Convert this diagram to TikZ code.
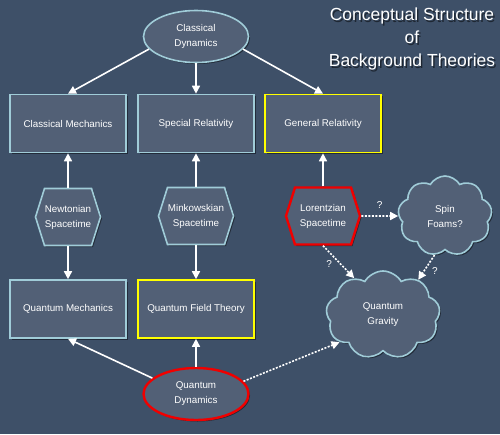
\documentclass[tikz,border=0pt]{standalone}
\usepackage{fontspec}
\setmainfont{Liberation Sans}
\usetikzlibrary{shapes.geometric,shapes.symbols,arrows.meta,shadows}
\definecolor{bg}{RGB}{62,80,104}
\definecolor{nodefill}{RGB}{82,96,118}
\definecolor{lb}{RGB}{160,204,216}
\definecolor{yel}{RGB}{255,255,0}
\definecolor{redb}{RGB}{240,0,0}
\begin{document}
\begin{tikzpicture}[x=1pt,y=-1pt,
 base/.style={fill=nodefill, draw=lb, line width=1.6pt, text=white, align=center,
   font=\fontsize{9.8}{15}\selectfont, inner sep=0pt,
   drop shadow={shadow xshift=1.5pt,shadow yshift=-1.5pt,opacity=0.45,fill=black}},
 boxnode/.style={base, rectangle, minimum width=116pt, minimum height=58pt},
 ellnode/.style={base, ellipse, minimum width=105pt, minimum height=52pt},
 hexnode/.style={base, signal, signal to=east and west, signal pointer angle=145, minimum height=57pt},
 cloudnode/.style={base, cloud, cloud puffs=9, cloud puff arc=120, cloud ignores aspect},
 conn/.style={draw=white, line width=1.6pt, -{Triangle[length=8pt,width=8pt]}},
 dconn/.style={conn, dash pattern=on 2pt off 1.5pt},
 qlabel/.style={text=white, font=\fontsize{10}{12}\selectfont},
 titletext/.style={align=center, font=\fontsize{17.5}{23}\selectfont},
]
\fill[bg] (0,0) rectangle (500,434);
\useasboundingbox (0,0) rectangle (500,434);

% title
\node[titletext, text=black, opacity=0.5] (titleshadow) at (413.5,40.5) {Conceptual Structure\\of\\Background Theories};
\node[titletext, text=white] (title) at (412,39) {Conceptual Structure\\of\\Background Theories};

% nodes
\node[ellnode] (CD) at (196,36.5) {Classical\\Dynamics};
\node[boxnode] (CM) at (68,123.5) {Classical Mechanics};
\node[boxnode] (SR) at (196,123.5) {Special Relativity};
\node[boxnode, draw=yel] (GR) at (323,123.5) {General Relativity};

\node[hexnode, minimum width=65pt] (NS) at (68,217) {Newtonian\\Spacetime};
\node[hexnode, minimum width=75pt] (MS) at (196,216) {Minkowskian\\Spacetime};
\node[hexnode, minimum width=74pt, draw=redb, line width=2.4pt] (LS) at (323,216) {Lorentzian\\Spacetime};

\node[cloudnode, minimum width=94pt, minimum height=80pt] (SF) at (445,216) {Spin\\Foams?};
\node[cloudnode, minimum width=114pt, minimum height=88pt] (QG) at (383,315) {Quantum\\Gravity};

\node[boxnode] (QM) at (68,309) {Quantum Mechanics};
\node[boxnode, draw=yel] (QFT) at (196,309) {Quantum Field Theory};
\node[ellnode, draw=redb, line width=2.4pt] (QD) at (196,394) {Quantum\\Dynamics};

% connectors
\draw[conn] (CD.195) -- (CM.north);
\draw[conn] (CD.south) -- (SR.north);
\draw[conn] (CD.-15) -- (GR.north);

\draw[conn] (NS.north) -- (CM.south);
\draw[conn] (NS.south) -- (QM.north);
\draw[conn] (MS.north) -- (SR.south);
\draw[conn] (MS.south) -- (QFT.north);
\draw[conn] (LS.north) -- (GR.south);

\draw[conn] (QD.160) -- (QM.south);
\draw[conn] (QD.north) -- (QFT.south);
\draw[dconn] (QD.15) -- (QG.212);

\draw[dconn] (LS.east) -- node[qlabel, above=3pt] (q1) {?} (SF.west);
\draw[dconn] (LS.south) -- node[qlabel, pos=0.55, left=4pt] (q2) {?} (QG.128);
\draw[dconn] (SF.-105) -- node[qlabel, pos=0.65, right=4pt] (q3) {?} (QG.45);
\end{tikzpicture}
\end{document}
